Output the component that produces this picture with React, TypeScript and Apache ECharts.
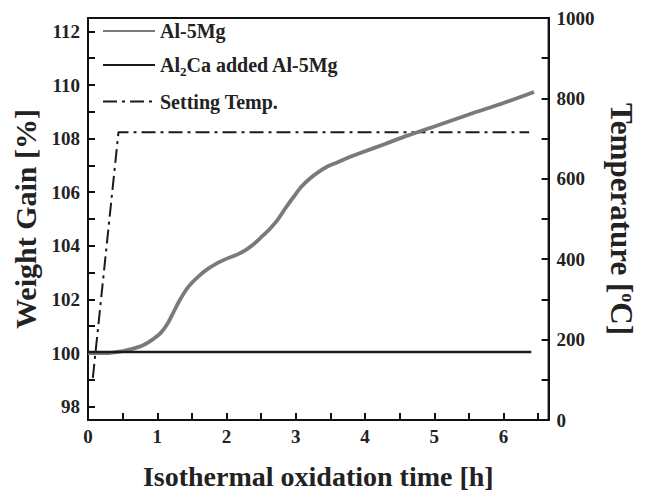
import React, { useEffect, useRef } from "react";
import * as echarts from "echarts";

// Isothermal oxidation time [h] vs weight gain [%]
const al5mgTime = [0, 0.3, 0.45, 0.58, 0.7, 0.81, 0.92, 1.05, 1.15, 1.23, 1.32, 1.42, 1.5, 1.6, 1.72, 1.88, 2.02, 2.16, 2.28, 2.39, 2.5, 2.62, 2.74, 2.85, 2.97, 3.08, 3.2, 3.32, 3.45, 3.59, 3.77, 3.96, 4.29, 4.61, 5.0, 5.5, 6.0, 6.44];
const al5mgGain = [100.0, 100.0, 100.05, 100.12, 100.2, 100.31, 100.48, 100.75, 101.1, 101.5, 101.95, 102.37, 102.62, 102.87, 103.12, 103.37, 103.54, 103.68, 103.85, 104.06, 104.32, 104.62, 104.98, 105.4, 105.83, 106.2, 106.5, 106.74, 106.95, 107.1, 107.3, 107.49, 107.8, 108.11, 108.45, 108.9, 109.33, 109.74];

const al2caTime = [0, 6.4];
const al2caGain = [100.04, 100.04];

const settingTime = [0.07, 0.44, 6.37];
const settingTemp = [105, 716, 716];

const xLabelValues = [0, 1, 2, 3, 4, 5, 6];
const xTickValues = [0, 0.5, 1, 1.5, 2, 2.5, 3, 3.5, 4, 4.5, 5, 5.5, 6, 6.5];
const leftLabelValues = [98, 100, 102, 104, 106, 108, 110, 112];
const leftTickValues = [98, 99, 100, 101, 102, 103, 104, 105, 106, 107, 108, 109, 110, 111, 112];
const rightLabelValues = [0, 200, 400, 600, 800, 1000];
const rightTickValues = [0, 100, 200, 300, 400, 500, 600, 700, 800, 900, 1000];

const pairs = (xs: number[], ys: number[]) => xs.map((x, i) => [x, ys[i]]);

const FONT = "'Liberation Serif', 'DejaVu Serif', serif";

export default function App() {
  const ref = useRef<HTMLDivElement>(null);
  useEffect(() => {
    if (!ref.current) return;
    const chart = echarts.init(ref.current, undefined, { renderer: "svg" });
    const tickLabel = {
      fontFamily: FONT,
      fontWeight: "bold" as const,
      fontSize: 19,
      color: "#222",
      formatter: (v: number) => String(v),
    };
    const axisLine = { show: true, lineStyle: { color: "#111", width: 2 } };
    const axisTickBase = { show: true, inside: true, length: 7, lineStyle: { color: "#111", width: 2 } };
    chart.setOption({
      animation: false,
      backgroundColor: "#fff",
      grid: { left: 88, right: 78, top: 18, bottom: 75, show: true, borderColor: "#111", borderWidth: 2, containLabel: false },
      legend: {
        orient: "vertical",
        left: 97,
        top: 16,
        itemWidth: 52,
        itemHeight: 14,
        itemGap: 14,
        itemStyle: { color: "transparent", borderWidth: 0, opacity: 0 },
        textStyle: {
          fontFamily: FONT,
          fontWeight: "bold",
          fontSize: 20,
          color: "#222",
          rich: {
            sub: { fontFamily: FONT, fontWeight: "bold", fontSize: 13, color: "#222", padding: [12, 0, 0, 0] },
          },
        },
        formatter: (name: string) => (name === "Al2Ca added Al-5Mg" ? "Al{sub|2}Ca added Al-5Mg" : name),
        data: ["Al-5Mg", "Al2Ca added Al-5Mg", "Setting Temp."],
      },
      xAxis: {
        type: "value",
        min: 0,
        max: 6.65,
        name: "Isothermal oxidation time [h]",
        nameLocation: "middle",
        nameGap: 42,
        nameTextStyle: { fontFamily: FONT, fontWeight: "bold", fontSize: 28, color: "#222" },
        axisLine,
        axisTick: { ...axisTickBase, customValues: xTickValues },
        axisLabel: { ...tickLabel, margin: 7, customValues: xLabelValues },
        splitLine: { show: false },
      },
      yAxis: [
        {
          type: "value",
          min: 97.5,
          max: 112.5,
          name: "Weight Gain [%]",
          nameLocation: "middle",
          nameGap: 46,
          nameTextStyle: { fontFamily: FONT, fontWeight: "bold", fontSize: 30, color: "#222" },
          axisLine,
          axisTick: { ...axisTickBase, customValues: leftTickValues },
          axisLabel: { ...tickLabel, margin: 8, customValues: leftLabelValues },
          splitLine: { show: false },
        },
        {
          type: "value",
          position: "right",
          min: 0,
          max: 1000,
          name: "Temperature [{sup|o}C]",
          nameLocation: "middle",
          nameRotate: -90,
          nameGap: 42,
          nameTextStyle: {
            fontFamily: FONT,
            fontWeight: "bold",
            fontSize: 31,
            color: "#222",
            rich: { sup: { fontFamily: FONT, fontWeight: "bold", fontSize: 18, color: "#222", padding: [0, 0, 14, 0] } },
          },
          axisLine,
          axisTick: { ...axisTickBase, customValues: rightTickValues },
          axisLabel: { ...tickLabel, margin: 8, customValues: rightLabelValues },
          splitLine: { show: false },
        },
      ],
      series: [
        {
          name: "Al-5Mg",
          type: "line",
          yAxisIndex: 0,
          smooth: 0.3,
          symbol: "none",
          lineStyle: { color: "#7a7a7a", width: 3.8 },
          itemStyle: { color: "#7a7a7a" },
          data: pairs(al5mgTime, al5mgGain),
          z: 3,
        },
        {
          name: "Al2Ca added Al-5Mg",
          type: "line",
          yAxisIndex: 0,
          symbol: "none",
          lineStyle: { color: "#1a1a1a", width: 2.5 },
          itemStyle: { color: "#1a1a1a" },
          data: pairs(al2caTime, al2caGain),
          z: 4,
        },
        {
          name: "Setting Temp.",
          type: "line",
          yAxisIndex: 1,
          symbol: "none",
          lineStyle: { color: "#1a1a1a", width: 2, type: [14, 5, 3, 5] },
          itemStyle: { color: "#1a1a1a" },
          data: pairs(settingTime, settingTemp),
          z: 2,
        },
      ],
    });
    return () => chart.dispose();
  }, []);
  return <div ref={ref} style={{ position: "fixed", left: 0, top: 0, width: 645, height: 495, background: "#fff" }} />;
}
